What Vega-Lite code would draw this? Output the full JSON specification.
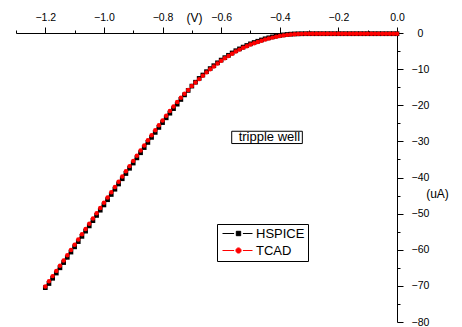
{
  "$schema": "https://vega.github.io/schema/vega-lite/v6.json",
  "width": 381,
  "height": 289,
  "autosize": {"type": "none"},
  "padding": {"left": 16, "top": 33, "right": 65, "bottom": 5},
  "background": "white",
  "config": {
    "font": "Liberation Sans",
    "view": {"stroke": null},
    "axis": {"grid": false, "domainColor": "black", "tickColor": "black", "labelColor": "black", "titleColor": "black", "labelFont": "Liberation Sans", "titleFont": "Liberation Sans", "titleFontWeight": "normal"}
  },
  "data": {
    "values": [
      {"V": -1.2, "TCAD": -70.2, "HSPICE": -70.5},
      {"V": -1.1875, "TCAD": -68.75, "HSPICE": -69.35},
      {"V": -1.175, "TCAD": -67.3, "HSPICE": -67.9},
      {"V": -1.1625, "TCAD": -65.85, "HSPICE": -66.45},
      {"V": -1.15, "TCAD": -64.4, "HSPICE": -65.0},
      {"V": -1.1375, "TCAD": -62.95, "HSPICE": -63.55},
      {"V": -1.125, "TCAD": -61.5, "HSPICE": -62.1},
      {"V": -1.1125, "TCAD": -60.05, "HSPICE": -60.65},
      {"V": -1.1, "TCAD": -58.6, "HSPICE": -59.2},
      {"V": -1.0875, "TCAD": -57.15, "HSPICE": -57.75},
      {"V": -1.075, "TCAD": -55.7, "HSPICE": -56.3},
      {"V": -1.0625, "TCAD": -54.25, "HSPICE": -54.85},
      {"V": -1.05, "TCAD": -52.8, "HSPICE": -53.4},
      {"V": -1.0375, "TCAD": -51.35, "HSPICE": -51.95},
      {"V": -1.025, "TCAD": -49.9, "HSPICE": -50.5},
      {"V": -1.0125, "TCAD": -48.45, "HSPICE": -49.05},
      {"V": -1.0, "TCAD": -47.0, "HSPICE": -47.6},
      {"V": -0.9875, "TCAD": -45.55, "HSPICE": -46.15},
      {"V": -0.975, "TCAD": -44.1, "HSPICE": -44.7},
      {"V": -0.9625, "TCAD": -42.65, "HSPICE": -43.25},
      {"V": -0.95, "TCAD": -41.2, "HSPICE": -41.8},
      {"V": -0.9375, "TCAD": -39.75, "HSPICE": -40.35},
      {"V": -0.925, "TCAD": -38.3, "HSPICE": -38.9},
      {"V": -0.9125, "TCAD": -36.85, "HSPICE": -37.45},
      {"V": -0.9, "TCAD": -35.4, "HSPICE": -36.0},
      {"V": -0.8875, "TCAD": -33.97, "HSPICE": -34.57},
      {"V": -0.875, "TCAD": -32.55, "HSPICE": -33.15},
      {"V": -0.8625, "TCAD": -31.12, "HSPICE": -31.72},
      {"V": -0.85, "TCAD": -29.7, "HSPICE": -30.3},
      {"V": -0.8375, "TCAD": -28.3, "HSPICE": -28.9},
      {"V": -0.825, "TCAD": -26.92, "HSPICE": -27.52},
      {"V": -0.8125, "TCAD": -25.55, "HSPICE": -26.15},
      {"V": -0.8, "TCAD": -24.2, "HSPICE": -24.8},
      {"V": -0.7875, "TCAD": -22.88, "HSPICE": -23.48},
      {"V": -0.775, "TCAD": -21.6, "HSPICE": -22.2},
      {"V": -0.7625, "TCAD": -20.33, "HSPICE": -20.93},
      {"V": -0.75, "TCAD": -19.1, "HSPICE": -19.7},
      {"V": -0.7375, "TCAD": -17.95, "HSPICE": -18.4},
      {"V": -0.725, "TCAD": -16.83, "HSPICE": -17.13},
      {"V": -0.7125, "TCAD": -15.75, "HSPICE": -15.9},
      {"V": -0.7, "TCAD": -14.7, "HSPICE": -14.7},
      {"V": -0.6875, "TCAD": -13.72, "HSPICE": -13.62},
      {"V": -0.675, "TCAD": -12.77, "HSPICE": -12.57},
      {"V": -0.6625, "TCAD": -11.83, "HSPICE": -11.63},
      {"V": -0.65, "TCAD": -10.9, "HSPICE": -10.7},
      {"V": -0.6375, "TCAD": -10.05, "HSPICE": -9.85},
      {"V": -0.625, "TCAD": -9.25, "HSPICE": -9.05},
      {"V": -0.6125, "TCAD": -8.45, "HSPICE": -8.25},
      {"V": -0.6, "TCAD": -7.7, "HSPICE": -7.5},
      {"V": -0.5875, "TCAD": -7.02, "HSPICE": -6.82},
      {"V": -0.575, "TCAD": -6.37, "HSPICE": -6.17},
      {"V": -0.5625, "TCAD": -5.72, "HSPICE": -5.52},
      {"V": -0.55, "TCAD": -5.1, "HSPICE": -4.9},
      {"V": -0.5375, "TCAD": -4.6, "HSPICE": -4.4},
      {"V": -0.525, "TCAD": -4.1, "HSPICE": -3.9},
      {"V": -0.5125, "TCAD": -3.65, "HSPICE": -3.45},
      {"V": -0.5, "TCAD": -3.2, "HSPICE": -3.0},
      {"V": -0.4875, "TCAD": -2.83, "HSPICE": -2.63},
      {"V": -0.475, "TCAD": -2.48, "HSPICE": -2.28},
      {"V": -0.4625, "TCAD": -2.13, "HSPICE": -1.93},
      {"V": -0.45, "TCAD": -1.8, "HSPICE": -1.6},
      {"V": -0.4375, "TCAD": -1.53, "HSPICE": -1.33},
      {"V": -0.425, "TCAD": -1.28, "HSPICE": -1.08},
      {"V": -0.4125, "TCAD": -1.03, "HSPICE": -0.85},
      {"V": -0.4, "TCAD": -0.82, "HSPICE": -0.66},
      {"V": -0.3875, "TCAD": -0.66, "HSPICE": -0.52},
      {"V": -0.375, "TCAD": -0.52, "HSPICE": -0.41},
      {"V": -0.3625, "TCAD": -0.4, "HSPICE": -0.32},
      {"V": -0.35, "TCAD": -0.32, "HSPICE": -0.26},
      {"V": -0.3375, "TCAD": -0.27, "HSPICE": -0.23},
      {"V": -0.325, "TCAD": -0.24, "HSPICE": -0.21},
      {"V": -0.3125, "TCAD": -0.22, "HSPICE": -0.2},
      {"V": -0.3, "TCAD": -0.2, "HSPICE": -0.2},
      {"V": -0.2875, "TCAD": -0.2, "HSPICE": -0.2},
      {"V": -0.275, "TCAD": -0.2, "HSPICE": -0.2},
      {"V": -0.2625, "TCAD": -0.2, "HSPICE": -0.2},
      {"V": -0.25, "TCAD": -0.2, "HSPICE": -0.2},
      {"V": -0.2375, "TCAD": -0.2, "HSPICE": -0.2},
      {"V": -0.225, "TCAD": -0.2, "HSPICE": -0.2},
      {"V": -0.2125, "TCAD": -0.2, "HSPICE": -0.2},
      {"V": -0.2, "TCAD": -0.2, "HSPICE": -0.2},
      {"V": -0.1875, "TCAD": -0.2, "HSPICE": -0.2},
      {"V": -0.175, "TCAD": -0.2, "HSPICE": -0.2},
      {"V": -0.1625, "TCAD": -0.2, "HSPICE": -0.2},
      {"V": -0.15, "TCAD": -0.2, "HSPICE": -0.2},
      {"V": -0.1375, "TCAD": -0.2, "HSPICE": -0.2},
      {"V": -0.125, "TCAD": -0.2, "HSPICE": -0.2},
      {"V": -0.1125, "TCAD": -0.2, "HSPICE": -0.2},
      {"V": -0.1, "TCAD": -0.2, "HSPICE": -0.2},
      {"V": -0.0875, "TCAD": -0.2, "HSPICE": -0.2},
      {"V": -0.075, "TCAD": -0.2, "HSPICE": -0.2},
      {"V": -0.0625, "TCAD": -0.2, "HSPICE": -0.2},
      {"V": -0.05, "TCAD": -0.2, "HSPICE": -0.2},
      {"V": -0.0375, "TCAD": -0.2, "HSPICE": -0.2},
      {"V": -0.025, "TCAD": -0.2, "HSPICE": -0.2},
      {"V": -0.0125, "TCAD": -0.2, "HSPICE": -0.2},
      {"V": 0.0, "TCAD": -0.2, "HSPICE": -0.2}
    ]
  },
  "layer": [
    {
      "data": {"values": [{"label": "tripple well"}]},
      "mark": {"type": "rect", "fill": null, "stroke": "black", "strokeWidth": 1},
      "encoding": {
        "x": {"datum": -0.564, "type": "quantitative"},
        "x2": {"datum": -0.323},
        "y": {"datum": -27.2, "type": "quantitative"},
        "y2": {"datum": -30.6}
      }
    },
    {
      "data": {"values": [{"label": "tripple well"}]},
      "mark": {"type": "text", "fontSize": 13, "font": "Liberation Sans", "color": "black", "align": "center", "baseline": "middle"},
      "encoding": {
        "x": {"datum": -0.4355, "type": "quantitative"},
        "y": {"datum": -28.9, "type": "quantitative"},
        "text": {"field": "label"}
      }
    },
    {
      "transform": [{"fold": ["HSPICE", "TCAD"], "as": ["series", "I"]}],
      "mark": {"type": "line", "strokeWidth": 1},
      "encoding": {
        "x": {"field": "V", "type": "quantitative"},
        "y": {"field": "I", "type": "quantitative"},
        "color": {
          "field": "series", "type": "nominal",
          "scale": {"domain": ["HSPICE", "TCAD"], "range": ["#000000", "#ff0000"]},
          "legend": {
            "title": null,
            "orient": "none",
            "legendX": 201,
            "legendY": 191,
            "strokeColor": "black",
            "padding": 3,
            "symbolSize": 64,
            "symbolOffset": 12,
            "labelOffset": 11,
            "labelFontSize": 13,
            "labelFont": "Liberation Sans",
            "labelColor": "black",
            "rowPadding": 3,
            "symbolStrokeWidth": 1,
            "symbolOpacity": 1,
            "encode": {
              "symbols": {
                "update": {
                  "shape": {"signal": "datum.value === 'HSPICE' ? 'M-4,0H-1.1M1.1,0H3.5M-0.55,-0.55H0.55V0.55H-0.55Z' : 'M-4,0H-1.1M1.1,0H3.5M-0.65,0A0.65,0.65,0,1,0,0.65,0A0.65,0.65,0,1,0,-0.65,0Z'"},
                  "fill": {"signal": "datum.value === 'HSPICE' ? '#000000' : '#ff0000'"},
                  "stroke": {"signal": "datum.value === 'HSPICE' ? '#333333' : '#ff0000'"}
                }
              }
            }
          }
        }
      }
    },
    {
      "mark": {"type": "point", "shape": "square", "filled": true, "opacity": 1, "color": "#000000", "size": 22},
      "encoding": {
        "x": {"field": "V", "type": "quantitative"},
        "y": {"field": "HSPICE", "type": "quantitative"}
      }
    },
    {
      "mark": {"type": "point", "shape": "circle", "filled": true, "opacity": 1, "color": "#ff0000", "size": 20},
      "encoding": {
        "x": {"field": "V", "type": "quantitative"},
        "y": {"field": "TCAD", "type": "quantitative"}
      }
    }
  ],
  "encoding": {
    "x": {
      "type": "quantitative",
      "scale": {"domain": [-1.3, 0], "nice": false, "zero": false},
      "axis": {
        "orient": "top",
        "title": "(V)",
        "titleX": 178,
        "titleY": -12,
        "titleAlign": "center",
        "titleBaseline": "alphabetic",
        "titleFontSize": 12,
        "values": [-1.3, -1.2, -1.1, -1.0, -0.9, -0.8, -0.7, -0.6, -0.5, -0.4, -0.3, -0.2, -0.1, 0.0],
        "labelExpr": "round(datum.value*10) % 2 === 0 ? format(datum.value, '.1f') : ''",
        "tickSize": {"condition": {"test": "round(datum.value*10) % 2 === 0", "value": 6}, "value": 3},
        "labelPadding": 5,
        "labelFontSize": 10.5,
        "labelFlush": false,
        "labelOverlap": false
      }
    },
    "y": {
      "type": "quantitative",
      "title": "(uA)",
      "scale": {"domain": [-80, 0], "nice": false, "zero": false},
      "axis": {
        "orient": "right",
        "title": "(uA)",
        "titleAngle": 0,
        "titleX": 40,
        "titleY": 160,
        "titleAlign": "center",
        "titleBaseline": "middle",
        "titleFontSize": 12,
        "values": [-80, -75, -70, -65, -60, -55, -50, -45, -40, -35, -30, -25, -20, -15, -10, -5, 0],
        "labelExpr": "round(datum.value) % 10 === 0 ? format(datum.value, 'd') : ''",
        "tickSize": {"condition": {"test": "round(datum.value) % 10 === 0", "value": 6}, "value": 3},
        "labelAlign": "center",
        "labelPadding": 17,
        "labelFontSize": 10.5,
        "labelFlush": false,
        "labelOverlap": false
      }
    }
  }
}
